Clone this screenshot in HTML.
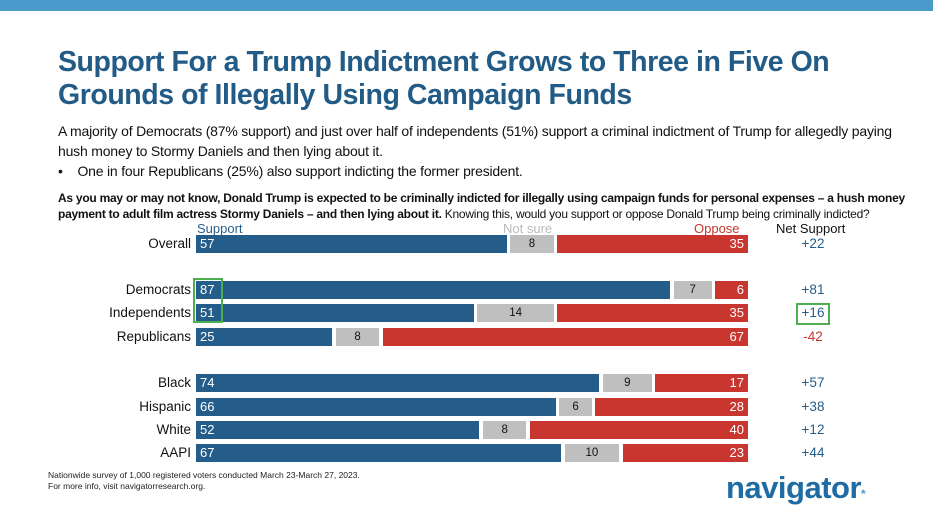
<!DOCTYPE html>
<html><head><meta charset="utf-8"><style>
body{margin:0;width:933px;height:523px;background:#fff;font-family:"Liberation Sans",sans-serif;position:relative;overflow:hidden}
.t{position:absolute;white-space:nowrap}
</style></head><body>
<div class="t" style="left:0;top:0;width:933px;height:11px;background:#4a9bcb"></div>
<div class="t" style="left:58px;top:46px;font-size:28.5px;font-weight:bold;color:#225b86;line-height:33px;letter-spacing:-0.45px">Support For a Trump Indictment Grows to Three in Five On<br>Grounds of Illegally Using Campaign Funds</div>
<div class="t" style="left:58px;top:121px;font-size:14px;color:#111;line-height:20px;letter-spacing:-0.2px">A majority of Democrats (87% support) and just over half of independents (51%) support a criminal indictment of Trump for allegedly paying<br>hush money to Stormy Daniels and then lying about it.<br>•&nbsp;&nbsp;&nbsp;&nbsp;One in four Republicans (25%) also support indicting the former president.</div>
<div class="t" style="left:58px;top:190px;font-size:12px;color:#111;line-height:16px;letter-spacing:-0.25px"><b>As you may or may not know, Donald Trump is expected to be criminally indicted for illegally using campaign funds for personal expenses – a hush money<br>payment to adult film actress Stormy Daniels – and then lying about it.</b> Knowing this, would you support or oppose Donald Trump being criminally indicted?</div>
<div class="t" style="left:197px;top:221px;font-size:13px;color:#2b5f8c">Support</div>
<div class="t" style="left:503px;top:221px;font-size:13px;color:#bbb">Not sure</div>
<div class="t" style="left:694px;top:221px;font-size:13px;color:#c8362f">Oppose</div>
<div class="t" style="left:776px;top:221px;font-size:13px;color:#111">Net Support</div>
<div id="chart"></div>
<div class="t" style="left:48px;top:470px;font-size:8.5px;color:#222;line-height:11px">Nationwide survey of 1,000 registered voters conducted March 23-March 27, 2023.<br>For more info, visit navigatorresearch.org.</div>
<div class="t" style="left:726px;top:470px;font-size:31px;font-weight:bold;color:#1e6ca3;letter-spacing:-0.5px">navigator<span style="font-size:12px;color:#4a9bcb">*</span></div>
<script>
const categories=["Overall","Democrats","Independents","Republicans","Black","Hispanic","White","AAPI"];
const support=[57,87,51,25,74,66,52,67];
const notSure=[8,7,14,8,9,6,8,10];
const oppose=[35,6,35,67,17,28,40,23];
const netLabels=["+22","+81","+16","-42","+57","+38","+12","+44"];
const rowY=[244,290,313,337,383,407,430,453];
const x0=196,scale=5.45,gap=3.5,h=18;
const c=document.getElementById('chart');
function mk(css,txt){const d=document.createElement('div');d.className='t';d.style.cssText=css;if(txt!==undefined)d.textContent=txt;c.appendChild(d);return d;}
categories.forEach((cat,i)=>{
 const y=rowY[i]-h/2;
 const l=mk(`right:${933-x0+5}px;top:${y}px;font-size:13.5px;line-height:${h}px;color:#111`,cat);
 
 
 const ws=support[i]*scale,wn=notSure[i]*scale,wo=oppose[i]*scale;
 const s=mk(`left:${x0}px;top:${y}px;width:${ws}px;height:${h}px;background:#245d8a;color:#fff;font-size:13px;line-height:${h}px;box-sizing:border-box;padding-left:4px`,support[i]);
 
 
 const n=mk(`left:${x0+ws+gap}px;top:${y}px;width:${wn}px;height:${h}px;background:#bfbfbf;color:#111;font-size:11.5px;line-height:${h}px;text-align:center`,notSure[i]);
 
 
 const o=mk(`left:${x0+ws+wn+2*gap}px;top:${y}px;width:${wo}px;height:${h}px;background:#c8362f;color:#fff;font-size:13px;line-height:${h}px;text-align:right;box-sizing:border-box;padding-right:4px`,oppose[i]);
 
 
 const neg=netLabels[i][0]==='-';
 const t=mk(`left:789px;width:48px;text-align:center;top:${y}px;font-size:13.5px;line-height:${h}px;color:${neg?'#c8362f':'#245d8a'}`,netLabels[i]);
 
 
});
const b1=mk(`left:193px;top:278px;width:30px;height:45px;border:2px solid #4caf50;box-sizing:border-box`);


const b2=mk(`left:796px;top:303px;width:34px;height:22px;border:2px solid #4caf50;box-sizing:border-box`);


</script>
</body></html>
